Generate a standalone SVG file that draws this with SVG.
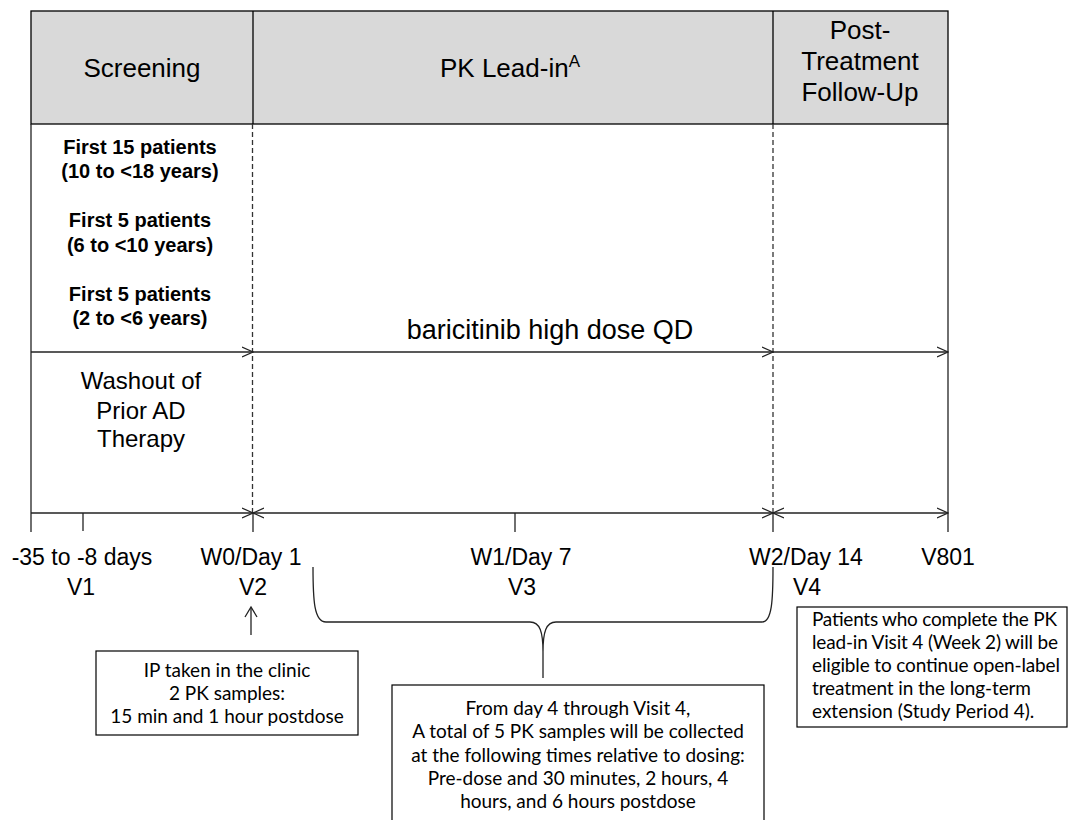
<svg xmlns="http://www.w3.org/2000/svg" width="1070" height="820" viewBox="0 0 1070 820">
<style>
.ar{font-family:"Liberation Sans",Arial,sans-serif;fill:#000;text-anchor:middle}
.hd{font-size:26px}
.ax{font-size:23px}
.bd{font-size:20px;font-weight:bold}
.cb{font-family:Lato,"Liberation Sans",sans-serif;font-size:19px;fill:#000}
.ln{stroke:#222;stroke-width:1.3;fill:none}
.dash{stroke:#333;stroke-width:1.3;stroke-dasharray:5,3;fill:none}
.box{fill:#fff;stroke:#000;stroke-width:1.2}
</style>
<defs>
<marker id="ah" viewBox="0 0 12 12" refX="11" refY="6" markerWidth="12" markerHeight="12" markerUnits="userSpaceOnUse" orient="auto-start-reverse">
<path d="M0,1 L11,6 L0,11" fill="none" stroke="#222" stroke-width="1.2"/>
</marker>
</defs>
<rect width="1070" height="820" fill="#fff"/>

<g id="header">
<rect x="31" y="11" width="917" height="113" fill="#d9d9d9" stroke="#000" stroke-width="1.3"/>
<line x1="253" y1="11" x2="253" y2="124" stroke="#000" stroke-width="1.3"/>
<line x1="773" y1="11" x2="773" y2="124" stroke="#000" stroke-width="1.3"/>
<text class="ar hd" x="142" y="77">Screening</text>
<text class="ar hd" x="440" y="77" style="text-anchor:start">PK Lead-in<tspan font-size="17" dy="-10">A</tspan></text>
<text class="ar hd" x="860" y="39">Post-</text>
<text class="ar hd" x="860" y="70">Treatment</text>
<text class="ar hd" x="860" y="101">Follow-Up</text>
</g>

<g id="frame">
<line class="ln" x1="31" y1="124" x2="31" y2="532"/>
<line class="ln" x1="948" y1="124" x2="948" y2="532"/>
<line class="dash" x1="252.5" y1="124" x2="252.5" y2="513"/>
<line class="dash" x1="773" y1="124" x2="773" y2="513"/>
</g>

<g id="cohorts">
<text class="ar bd" x="140" y="154">First 15 patients</text>
<text class="ar bd" x="140" y="178">(10 to &lt;18 years)</text>
<text class="ar bd" x="140" y="227">First 5 patients</text>
<text class="ar bd" x="140" y="252">(6 to &lt;10 years)</text>
<text class="ar bd" x="140" y="301">First 5 patients</text>
<text class="ar bd" x="140" y="325">(2 to &lt;6 years)</text>
</g>

<g id="washout">
<text class="ar" font-size="24" x="141" y="389">Washout of</text>
<text class="ar" font-size="24" x="141" y="419">Prior AD</text>
<text class="ar" font-size="24" x="141" y="447">Therapy</text>
</g>

<g id="treatment">
<text class="ar" font-size="27" x="550" y="339">baricitinib high dose QD</text>
</g>

<g id="connectors">
<line class="ln" x1="31" y1="352" x2="253" y2="352" marker-end="url(#ah)"/>
<line class="ln" x1="253" y1="352" x2="773" y2="352" marker-end="url(#ah)"/>
<line class="ln" x1="773" y1="352" x2="948" y2="352" marker-end="url(#ah)"/>
<line class="ln" x1="31" y1="513" x2="253" y2="513" marker-end="url(#ah)"/>
<line class="ln" x1="253" y1="513" x2="773" y2="513" marker-start="url(#ah)" marker-end="url(#ah)"/>
<line class="ln" x1="773" y1="513" x2="948" y2="513" marker-start="url(#ah)" marker-end="url(#ah)"/>
<line class="ln" x1="83" y1="513" x2="83" y2="531"/>
<line class="ln" x1="253" y1="513" x2="253" y2="532"/>
<line class="ln" x1="515" y1="513" x2="515" y2="532"/>
<line class="ln" x1="773" y1="513" x2="773" y2="532"/>
<line class="ln" x1="251" y1="635" x2="251" y2="608"/>
<path class="ln" d="M245,617 L251,607 L257,617"/>
<path class="ln" d="M313,567 C313,600 314,622 326,622 L530,622 C540,622 543,632 543,652 L543,678 M543,652 C543,632 546,622 556,622 L762,622 C772,622 773,600 773,567"/>
</g>

<g id="axis-labels">
<text class="ar ax" x="82" y="565">-35 to -8 days</text>
<text class="ar ax" x="81" y="595">V1</text>
<text class="ar ax" x="251" y="565">W0/Day 1</text>
<text class="ar ax" x="253" y="595">V2</text>
<text class="ar ax" x="521" y="565">W1/Day 7</text>
<text class="ar ax" x="522" y="595">V3</text>
<text class="ar ax" x="806" y="565">W2/Day 14</text>
<text class="ar ax" x="807" y="595">V4</text>
<text class="ar ax" x="948" y="565">V801</text>
</g>

<g id="box-v2">
<rect class="box" x="96" y="651" width="262" height="84"/>
<text class="cb" x="227" y="677" text-anchor="middle">IP taken in the clinic</text>
<text class="cb" x="227" y="700" text-anchor="middle">2 PK samples:</text>
<text class="cb" x="227" y="723" text-anchor="middle">15 min and 1 hour postdose</text>
</g>

<g id="box-pk">
<rect class="box" x="392" y="685" width="372" height="145"/>
<text class="cb" x="578" y="715" text-anchor="middle">From day 4 through Visit 4,</text>
<text class="cb" x="578" y="738" text-anchor="middle">A total of 5 PK samples will be collected</text>
<text class="cb" x="578" y="762" text-anchor="middle">at the following times relative to dosing:</text>
<text class="cb" x="578" y="785" text-anchor="middle">Pre-dose and 30 minutes, 2 hours, 4</text>
<text class="cb" x="578" y="808" text-anchor="middle">hours, and 6 hours postdose</text>
</g>

<g id="box-ext">
<rect class="box" x="797" y="607" width="270" height="120"/>
<text class="cb" x="812" y="626" textLength="245" lengthAdjust="spacing">Patients who complete the PK</text>
<text class="cb" x="812" y="649" textLength="246" lengthAdjust="spacing">lead-in Visit 4 (Week 2) will be</text>
<text class="cb" x="812" y="672" textLength="248" lengthAdjust="spacing">eligible to continue open-label</text>
<text class="cb" x="812" y="695" textLength="219" lengthAdjust="spacing">treatment in the long-term</text>
<text class="cb" x="812" y="718">extension (Study Period 4).</text>
</g>
</svg>
